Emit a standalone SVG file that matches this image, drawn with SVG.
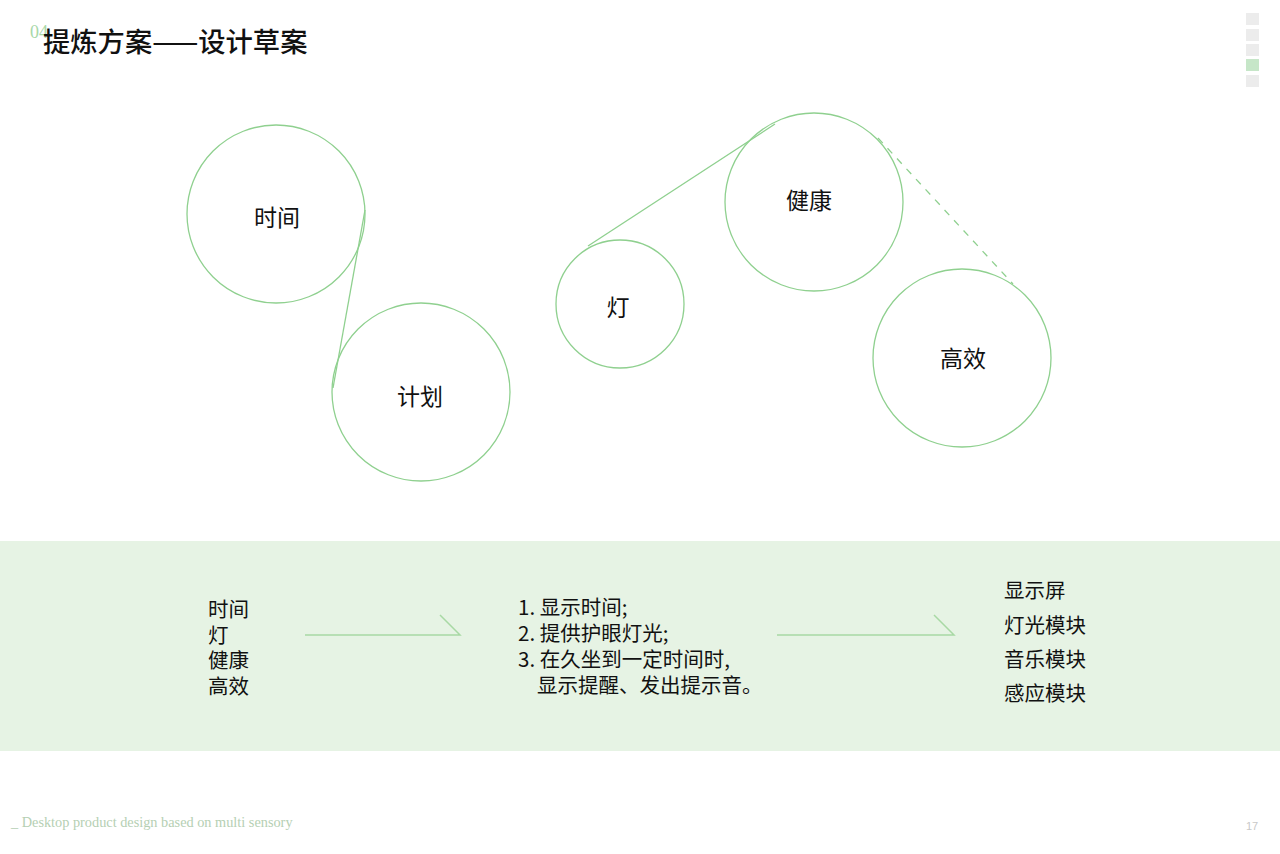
<svg xmlns="http://www.w3.org/2000/svg" width="1280" height="854" viewBox="0 0 1280 854">
<style>
.c{fill:none;stroke:#8fd08f;stroke-width:1.3}
.t{font-family:"Noto Sans CJK SC","Noto Sans",sans-serif;fill:#111}
.ct{font-size:23px;text-anchor:middle}
.bt{font-size:20.5px}
.sq{fill:#ececec}
.ar{stroke:#a8d9a4;stroke-width:1.5;fill:none}
</style>
<rect width="1280" height="854" fill="#fff"/>
<text x="30" y="38" font-family="Liberation Serif,serif" font-size="18" fill="#a8d8a8">04</text>
<text x="43" y="52" class="t" font-size="27.3" font-weight="500">提炼方案——设计草案</text>
<g id="nav">
<rect class="sq" x="1246" y="13" width="13" height="12"/>
<rect class="sq" x="1246" y="29" width="13" height="12"/>
<rect class="sq" x="1246" y="44" width="13" height="12"/>
<rect x="1246" y="59" width="13" height="12" fill="#c6e6c8"/>
<rect class="sq" x="1246" y="75" width="13" height="12"/>
</g>
<g id="connectors">
<line class="c" x1="365" y1="210" x2="333" y2="388"/>
<line class="c" x1="588" y1="246" x2="775" y2="124"/>
<line class="c" x1="878" y1="138" x2="1013" y2="284" stroke-dasharray="7,7"/>
</g>
<g id="n-time"><circle class="c" cx="276" cy="214" r="89"/><text class="t ct" x="277" y="226">时间</text></g>
<g id="n-plan"><circle class="c" cx="421" cy="392" r="89"/><text class="t ct" x="420" y="405">计划</text></g>
<g id="n-lamp"><circle class="c" cx="620" cy="304" r="64"/><text class="t ct" x="618" y="316">灯</text></g>
<g id="n-health"><circle class="c" cx="814" cy="202" r="89"/><text class="t ct" x="809" y="209">健康</text></g>
<g id="n-eff"><circle class="c" cx="962" cy="358" r="89"/><text class="t ct" x="963" y="367">高效</text></g>
<rect x="0" y="541" width="1280" height="210" fill="#e6f3e4"/>
<g id="b-left" class="t bt">
<text x="208" y="617">时间</text>
<text x="208" y="643">灯</text>
<text x="208" y="668">健康</text>
<text x="208" y="694">高效</text>
</g>
<g id="b-mid" class="t bt">
<text x="518" y="615">1. 显示时间;</text>
<text x="518" y="641">2. 提供护眼灯光;</text>
<text x="518" y="667">3. 在久坐到一定时间时,</text>
<text x="537" y="693">显示提醒、发出提示音。</text>
</g>
<g id="b-right" class="t bt">
<text x="1004" y="598">显示屏</text>
<text x="1004" y="633">灯光模块</text>
<text x="1004" y="667">音乐模块</text>
<text x="1004" y="701">感应模块</text>
</g>
<g id="arrows">
<polyline class="ar" points="305,635 460,635 440,615"/>
<polyline class="ar" points="777,635 954,635 934,615"/>
</g>
<text x="11" y="827" font-family="Liberation Serif,serif" font-size="14.3" fill="#b5cfb3">_ Desktop product design based on multi sensory</text>
<text x="1246" y="830" font-family="Liberation Sans,sans-serif" font-size="11" fill="#c8c8c8">17</text>
</svg>
